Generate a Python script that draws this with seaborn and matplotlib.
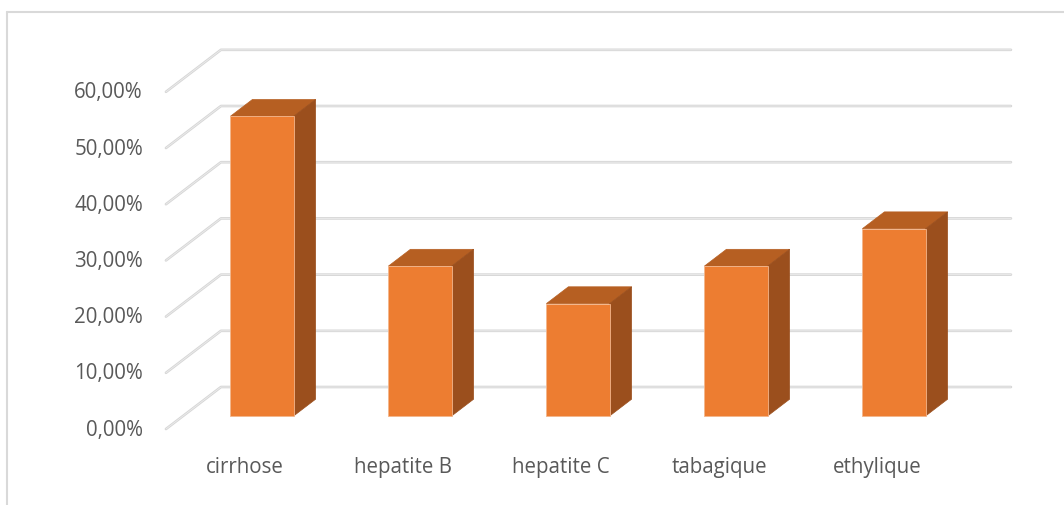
import matplotlib
matplotlib.use("Agg")
import matplotlib.pyplot as plt
from matplotlib.patches import Polygon
from matplotlib.lines import Line2D
import seaborn as sns
import pandas as pd

# Data
categories = ["cirrhose", "hepatite B", "hepatite C", "tabagique", "ethylique"]
values = [53.33, 26.67, 20.00, 26.67, 33.33]   # percent
y_ticks = [0, 10, 20, 30, 40, 50, 60]
y_tick_labels = ["0,00%", "10,00%", "20,00%", "30,00%", "40,00%", "50,00%", "60,00%"]

# Colours
FRONT = "#ED7D31"
TOP = "#B65F22"
SIDE = "#9B4F1D"
GRID = "#d6d6d6"
TEXT = "#595959"

sns.set_theme(style="white")
plt.rcParams["font.family"] = ["Open Sans", "DejaVu Sans"]

W, H, DPI = 1064, 506, 100
fig = plt.figure(figsize=(W / DPI, H / DPI), dpi=DPI)
ax = fig.add_axes([0, 0, 1, 1])

# Pixel geometry of the bar front plane
PX_X = 158.0           # px per category
PX_Y = 5.62            # px per percent
X0_PX = 262.0          # px of first category centre
Y0_PX = 89.0           # px (from bottom) of 0 %

# Oblique depth projection: one full depth unit in data coordinates
DEPTH_DX = 55.0 / PX_X
DEPTH_DY = 42.0 / PX_Y
FRONT_D = -0.31        # floor front edge, relative to bar fronts
BACK_D = 0.69          # back wall
BAR_D = 0.40           # bar depth

df = pd.DataFrame({"category": categories, "value": values})
sns.barplot(data=df, x="category", y="value", width=0.4, color=FRONT,
            saturation=1, ax=ax, zorder=3, edgecolor="#f3b68c", linewidth=0.6)

ax.set_xlim(-X0_PX / PX_X, (W - X0_PX) / PX_X)
ax.set_ylim(-Y0_PX / PX_Y, (H - Y0_PX) / PX_Y)
ax.axis("off")

n = len(categories)
left, right = -0.5, n - 0.5

# Floor diagonals and back-wall gridlines
for t, lab in zip(y_ticks, y_tick_labels):
    xf = left + FRONT_D * DEPTH_DX
    yf = t + FRONT_D * DEPTH_DY
    xb = left + BACK_D * DEPTH_DX
    yb = t + BACK_D * DEPTH_DY
    xr = right + BACK_D * DEPTH_DX
    for lw, c in ((1.9, GRID), (0.6, "#ececec")):
        ax.plot([xf, xb, xr], [yf, yb, yb], color=c, lw=lw,
                solid_capstyle="round", solid_joinstyle="round", zorder=1)
    ax.text(xf - 23 / PX_X, yf, lab, ha="right", va="center",
            fontsize=14.8, color=TEXT)

# Category labels along the front edge
for i, cat in enumerate(categories):
    ax.text(i + FRONT_D * DEPTH_DX, -8.9, cat, ha="center", va="center",
            fontsize=14.8, color=TEXT)

# Top and side faces of each bar
ddx = BAR_D * DEPTH_DX
ddy = BAR_D * DEPTH_DY
for p in ax.patches[:n]:
    x, w, h = p.get_x(), p.get_width(), p.get_height()
    top = Polygon([(x, h), (x + w, h), (x + w + ddx, h + ddy), (x + ddx, h + ddy)],
                  closed=True, facecolor=TOP, edgecolor=TOP, lw=0.5, zorder=2.9)
    side = Polygon([(x + w, 0), (x + w + ddx, ddy), (x + w + ddx, h + ddy), (x + w, h)],
                   closed=True, facecolor=SIDE, edgecolor=SIDE, lw=0.5, zorder=2.9)
    ax.add_patch(top)
    ax.add_patch(side)

# Chart area border (top and left edges)
fig.add_artist(Line2D([7 / W, 7 / W], [0, 1 - 13 / H], transform=fig.transFigure,
                      color="#d9d9d9", lw=1.5))
fig.add_artist(Line2D([7 / W, 1], [1 - 13 / H, 1 - 13 / H], transform=fig.transFigure,
                      color="#d9d9d9", lw=1.5))

fig.savefig("out.png", dpi=DPI, facecolor="white")
